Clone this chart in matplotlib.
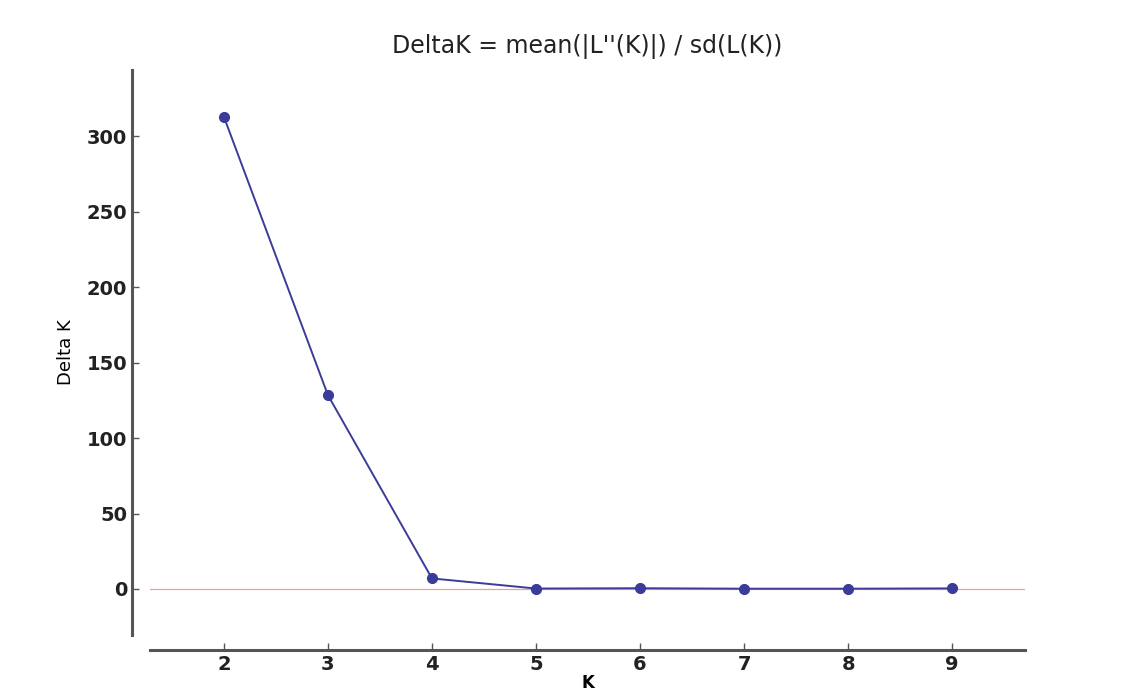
import matplotlib
matplotlib.use("Agg")
import matplotlib.pyplot as plt

K = [2, 3, 4, 5, 6, 7, 8, 9]
delta_k = [313.0, 128.5, 7.0, 0.3, 0.5, 0.2, 0.2, 0.4]
title = "DeltaK = mean(|L''(K)|) / sd(L(K))"

fig = plt.figure(figsize=(11.29, 6.95), dpi=100)
ax = fig.add_axes([150/1129, 1 - 635/695, 875/1129, 565/695])

ax.axhline(0, color="#e8a0a0", lw=0.9, zorder=1)
ax.plot(K, delta_k, color="#3b3b9a", lw=1.4, marker="o", ms=7, zorder=3)

ax.set_xlim(1.29, 9.7)
ax.set_ylim(-30.5, 344)
ax.set_xticks(K)
ax.set_yticks([0, 50, 100, 150, 200, 250, 300])

for s in ["top", "right"]:
    ax.spines[s].set_visible(False)
ax.spines["left"].set_position(("outward", 13))
ax.spines["bottom"].set_position(("outward", 11))
for s in ["left", "bottom"]:
    ax.spines[s].set_color("#555555")
    ax.spines[s].set_linewidth(2.2)

ax.tick_params(direction="in", length=5, width=1, color="#555555",
               labelsize=14, labelcolor="#222222")
for lab in ax.get_xticklabels() + ax.get_yticklabels():
    lab.set_fontweight("semibold")

ax.set_title(title, fontsize=17, color="#222222", pad=12)
ax.set_ylabel("Delta K", fontsize=13, family="Liberation Sans Narrow", labelpad=8)
ax.set_xlabel("K", fontsize=12, fontweight="semibold", labelpad=0)

fig.savefig("out.png", dpi=100)
